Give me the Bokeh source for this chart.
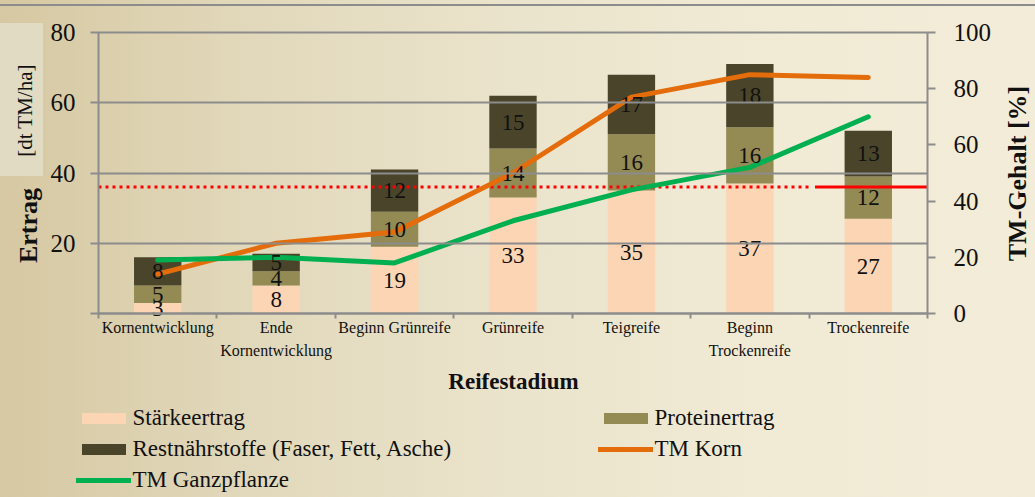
from math import pi
from bokeh.plotting import figure
from bokeh.models import (Range1d, LinearAxis, FixedTicker, ColumnDataSource, Label,
                          Legend, LegendItem, GlobalInlineStyleSheet)
from bokeh.core.properties import value
from bokeh.embed import file_html
from bokeh.resources import INLINE

# ---------------- data ----------------
stadien = ["Kornentwicklung", "Ende\nKornentwicklung", "Beginn Grünreife", "Grünreife",
           "Teigreife", "Beginn\nTrockenreife", "Trockenreife"]
staerke = [3, 8, 19, 33, 35, 37, 27]          # dt TM/ha
protein = [5, 4, 10, 14, 16, 16, 12]          # dt TM/ha
rest = [8, 5, 12, 15, 17, 18, 13]             # dt TM/ha
tm_korn = [14, 25, 29, 50, 77, 85, 84]        # %
tm_ganz = [19, 20, 18, 33, 44, 52, 70]        # %
schwelle = 45                                  # % TM reference line
schwelle_punktiert_bis = 6.0                   # category position
schwelle_durchgehend = [6.05, 7.0]             # category positions
ticks_links = [0, 20, 40, 60, 80]
ticks_rechts = [0, 20, 40, 60, 80, 100]
ymax_links, ymax_rechts = 80, 100

# ---------------- styling ----------------
FONT = "Liberation Serif"
GRAY = "#8c8c8c"
TXT = "#111111"
C_ST, C_PR, C_RE = "#fcd5b5", "#948a54", "#4a452a"
C_KORN, C_GANZ, C_RED = "#e46c0a", "#00b050", "#ff0000"

n = len(stadien)
xs = [i + 0.5 for i in range(n)]

# canvas and plotting area (pixels); the frame covers the whole canvas,
# axes are pinned at fixed data locations
W, H = 1035, 497
FL, FR, FT, FB = 98.0, 927.0, 32.0, 313.0
def dx(xp):
    return (xp - FL) / (FR - FL) * n
def dy(yp):
    return (FB - yp) / (FB - FT) * ymax_links

css = """
html { height: 100%; background:
  linear-gradient(#8c8c8c, #8c8c8c) 0 4px / 100% 2px no-repeat,
  linear-gradient(#e0dbc2, #e0dbc2) 0 23px / 43px 153px no-repeat,
  linear-gradient(to right, #d6c8a2 0%, #e2d9bc 25%, #ebe4cc 50%, #f1ead5 75%, #f3ecd8 100%); }
body { background: transparent; }
"""

p = figure(width=W, height=H,
           x_range=Range1d(dx(0), dx(W)), y_range=Range1d(dy(H), dy(0)),
           x_axis_type=None, y_axis_type=None,
           min_border=0, min_border_left=0, min_border_right=0,
           min_border_top=0, min_border_bottom=0,
           output_backend="svg", toolbar_location=None)
p.stylesheets = [GlobalInlineStyleSheet(css=css)]
p.background_fill_alpha = 0
p.border_fill_alpha = 0
p.outline_line_color = None
f = ymax_rechts / ymax_links
p.extra_y_ranges = {"pct": Range1d(dy(H) * f, dy(0) * f)}
p.xgrid.visible = False
p.ygrid.visible = False

def style_axis(ax, size):
    ax.axis_line_color = GRAY
    ax.axis_line_width = 2
    ax.major_tick_line_color = GRAY
    ax.major_tick_line_width = 2
    ax.minor_tick_line_color = None
    ax.major_label_text_font = FONT
    ax.major_label_text_font_size = size
    ax.major_label_text_color = TXT

# left axis (inner ticks run across the plot as grid lines)
ya = LinearAxis(ticker=FixedTicker(ticks=ticks_links), fixed_location=0,
                bounds=(0, ymax_links))
style_axis(ya, "25px")
ya.major_label_overrides = {0: ""}
ya.major_tick_out = 8
ya.major_tick_in = int(FR - FL)
ya.major_label_standoff = 15
p.add_layout(ya, "left")

# right axis
ra = LinearAxis(y_range_name="pct", ticker=FixedTicker(ticks=ticks_rechts),
                fixed_location=n, bounds=(0, ymax_rechts))
style_axis(ra, "25px")
ra.major_tick_out = 8
ra.major_tick_in = 0
ra.major_label_standoff = 18
p.add_layout(ra, "right")

# bottom axis
xa = LinearAxis(ticker=FixedTicker(ticks=xs, minor_ticks=list(range(n + 1))),
                fixed_location=0, bounds=(0, n))
style_axis(xa, "16px")
xa.major_label_overrides = {x: s for x, s in zip(xs, stadien)}
xa.major_tick_line_color = None
xa.major_tick_out = 0
xa.major_tick_in = 0
xa.minor_tick_line_color = GRAY
xa.minor_tick_line_width = 2
xa.minor_tick_out = 5
xa.minor_tick_in = 0
xa.major_label_standoff = 0
xa.major_label_text_line_height = 1.4
p.add_layout(xa, "below")

# bars
src = ColumnDataSource(dict(x=xs, staerke=staerke, protein=protein, rest=rest))
bars = p.vbar_stack(["staerke", "protein", "rest"], x="x", width=0.4, source=src,
                    fill_color=[C_ST, C_PR, C_RE], line_color=None)

# threshold line
p.line([0, schwelle_punktiert_bis], [schwelle, schwelle], y_range_name="pct",
       line_color=C_RED, line_width=3, line_dash="3 4")
p.line(schwelle_durchgehend, [schwelle, schwelle], y_range_name="pct",
       line_color=C_RED, line_width=3)

# lines
r_korn = p.line(xs, tm_korn, y_range_name="pct", line_color=C_KORN, line_width=5,
                line_join="round", line_cap="round")
r_ganz = p.line(xs, tm_ganz, y_range_name="pct", line_color=C_GANZ, line_width=5,
                line_join="round", line_cap="round")

# bar labels
lx, ly, lt = [], [], []
for i in range(n):
    base = 0
    for series in (staerke, protein, rest):
        v = series[i]
        lx.append(xs[i]); ly.append(base + v / 2); lt.append(str(v))
        base += v
p.text(lx, ly, text=lt, text_font=value(FONT), text_font_size="23px",
       text_align="center", text_baseline="middle", text_color=TXT)

# axis titles
def title(text, xp, yp, size, bold=True, angle=0.0):
    p.add_layout(Label(x=dx(xp), y=dy(yp), text=text, angle=angle,
                       text_font=FONT, text_font_size=size,
                       text_font_style="bold" if bold else "normal",
                       text_align="center", text_baseline="middle", text_color=TXT))

title("Ertrag", 28, 225, "26px", True, pi / 2)
title("[dt TM/ha]", 24, 110, "21px", False, pi / 2)
title("TM-Gehalt [%]", 1017, 173, "26px", True, pi / 2)
title("Reifestadium", 513, 381, "23px", True)

# legends
def mk_legend(items, loc):
    lg = Legend(items=items, location=loc, orientation="vertical")
    lg.padding = 0
    lg.margin = 0
    lg.border_line_color = None
    lg.background_fill_alpha = 0
    lg.glyph_width = 55
    lg.glyph_height = 14
    lg.label_standoff = 2
    lg.label_height = 25
    lg.spacing = 5
    lg.label_text_font = FONT
    lg.label_text_font_size = "23px"
    lg.label_text_color = TXT
    return lg

leg1 = mk_legend([
    LegendItem(label=value("Stärkeertrag"), renderers=[bars[0]]),
    LegendItem(label=value("Restnährstoffe (Faser, Fett, Asche)"), renderers=[bars[2]]),
    LegendItem(label=value("TM Ganzpflanze"), renderers=[r_ganz]),
], (75.5, H - 493))
leg2 = mk_legend([
    LegendItem(label=value("Proteinertrag"), renderers=[bars[1]]),
    LegendItem(label=value("TM Korn"), renderers=[r_korn]),
], (597.5, H - 462))
p.add_layout(leg1)
p.add_layout(leg2)

open("out.html", "w").write(file_html(p, INLINE))
